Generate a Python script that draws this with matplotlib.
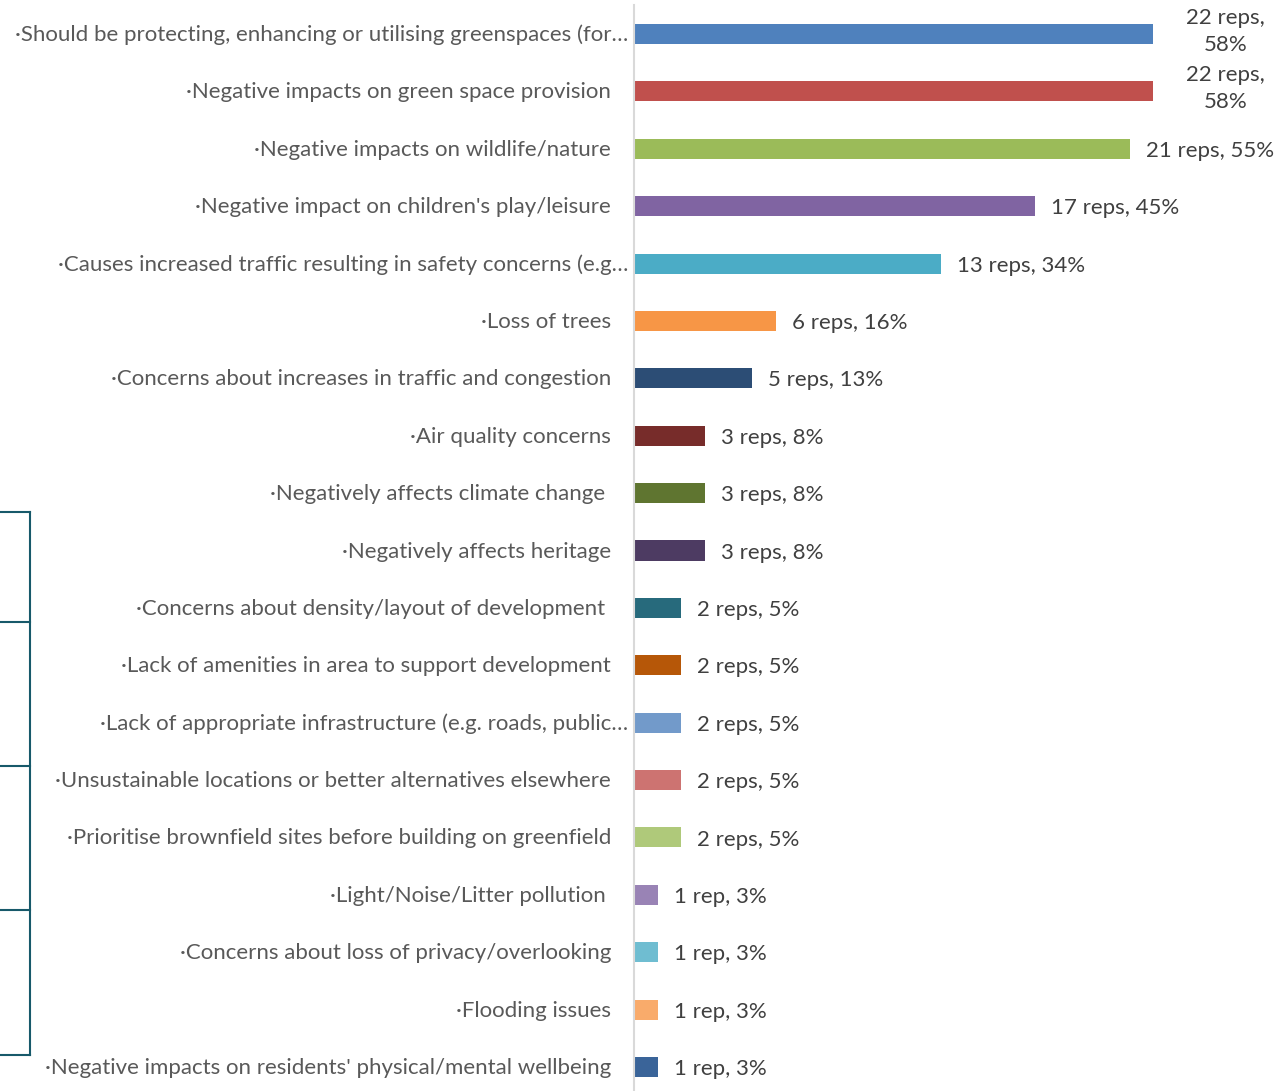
import matplotlib.pyplot as plt
from matplotlib.lines import Line2D
from matplotlib.transforms import blended_transform_factory, ScaledTranslation

# Categories (top to bottom) and counts
categories = [
    "·Should be protecting, enhancing or utilising greenspaces (for…",
    "·Negative impacts on green space provision",
    "·Negative impacts on wildlife/nature",
    "·Negative impact on children's play/leisure",
    "·Causes increased traffic resulting in safety concerns (e.g…",
    "·Loss of trees",
    "·Concerns about increases in traffic and congestion",
    "·Air quality concerns",
    "·Negatively affects climate change ",
    "·Negatively affects heritage",
    "·Concerns about density/layout of development ",
    "·Lack of amenities in area to support development",
    "·Lack of appropriate infrastructure (e.g. roads, public…",
    "·Unsustainable locations or better alternatives elsewhere",
    "·Prioritise brownfield sites before building on greenfield",
    "·Light/Noise/Litter pollution ",
    "·Concerns about loss of privacy/overlooking",
    "·Flooding issues",
    "·Negative impacts on residents' physical/mental wellbeing",
]
reps = [22, 22, 21, 17, 13, 6, 5, 3, 3, 3, 2, 2, 2, 2, 2, 1, 1, 1, 1]
pcts = [58, 58, 55, 45, 34, 16, 13, 8, 8, 8, 5, 5, 5, 5, 5, 3, 3, 3, 3]
colors = ["#4F81BD", "#C0504D", "#9BBB59", "#8064A2", "#4BACC6", "#F79646",
          "#2C4D75", "#772C2A", "#5F7530", "#4D3B62", "#276A7C", "#B65708",
          "#729ACA", "#CD7371", "#AFC97A", "#9983B5", "#6FBDD1", "#F9AB6B",
          "#3A6499"]

plt.rcParams['font.family'] = ['Lato', 'DejaVu Sans']

fig = plt.figure(figsize=(12.76, 10.91), dpi=100)
ax = fig.add_axes([634 / 1276, 1 - 1095.7 / 1091, 642 / 1276, 1090.4 / 1091])

n = len(categories)
y = list(range(n))
ax.barh(y, reps, height=0.35, color=colors)
ax.set_ylim(n - 0.5, -0.5)
ax.set_xlim(0, 642 / 23.6)

ax.set_yticks([])
ax.set_xticks([])
for s in ['top', 'right', 'bottom']:
    ax.spines[s].set_visible(False)
ax.spines['left'].set_color("#D9D9D9")
ax.spines['left'].set_linewidth(1.5)

# category labels, right aligned left of the axis
trans = blended_transform_factory(ax.transAxes, ax.transData)
for i, lab in enumerate(categories):
    gap = 6 if lab.endswith("…") else 23
    t = trans + ScaledTranslation(-gap / 100, -1 / 100, fig.dpi_scale_trans)
    ax.text(0, i, lab, transform=t, ha='right', va='center',
            fontsize=16, color="#595959")

for i, (r, p) in enumerate(zip(reps, pcts)):
    word = "rep" if r == 1 else "reps"
    if r == 22:
        ax.annotate(f"{r} {word},\n{p}%", (r, i), xytext=(52, 2),
                    textcoords='offset points', ha='center', va='center',
                    fontsize=16, color="#404040", linespacing=1.45)
    else:
        ax.annotate(f"{r} {word}, {p}%", (r, i), xytext=(11.5, -1.5),
                    textcoords='offset points', ha='left', va='center',
                    fontsize=16, color="#404040")

# stray box edge from neighbouring chart on the left
teal = "#17596A"
xr = 30 / 1276
fig.add_artist(Line2D([xr, xr], [1 - 512 / 1091, 1 - 1055 / 1091], color=teal, lw=1.5))
for yy in [512, 622, 766, 910, 1055]:
    fig.add_artist(Line2D([0, xr], [1 - yy / 1091, 1 - yy / 1091], color=teal, lw=1.5))

fig.savefig("out.png", dpi=100)
